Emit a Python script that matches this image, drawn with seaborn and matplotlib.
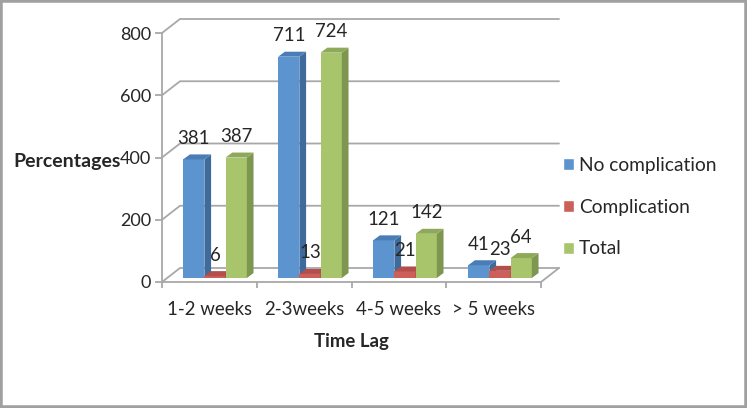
import matplotlib
matplotlib.use('Agg')
import matplotlib.pyplot as plt
from matplotlib.patches import Polygon, Rectangle
import pandas as pd
import seaborn as sns

# values
categories = ['1-2 weeks', '2-3weeks', '4-5 weeks', '> 5 weeks']
no_complication = [381, 711, 121, 41]
complication = [6, 13, 21, 23]
total = [387, 724, 142, 64]
yticks = [0, 200, 400, 600, 800]
series_names = ['No complication', 'Complication', 'Total']
front_cols = ['#5B94CE', '#CD5F5B', '#A9C56C']
side_cols = ['#3F6B9C', '#9A4340', '#7D9650']
top_cols = ['#4A7DB5', '#B34E4B', '#8FA95A']

W, H = 747, 408
grid_col = '#A8A8A8'
text_col = '#262626'

sns.set_style('white')
plt.rcParams['font.family'] = ['Lato', 'DejaVu Sans']
plt.rcParams['text.color'] = text_col

df = pd.DataFrame({
    'cat': categories * 3,
    'series': [s for s in series_names for _ in categories],
    'value': no_complication + complication + total,
})

fig = plt.figure(figsize=(W / 100, H / 100), dpi=100)
fig.add_artist(Rectangle((0, 0), 1, 1, transform=fig.transFigure, fill=False,
                         edgecolor='#A0A0A0', linewidth=4))

# front plane: ticks, labels and the walls behind the bars
base = fig.add_axes([162 / W, (H - 282) / H, 379 / W, 249 / H])
base.set_xlim(-0.5, 3.5)
base.set_ylim(0, 800)
base.patch.set_alpha(0)
for s in ['top', 'right']:
    base.spines[s].set_visible(False)
for s in ['left', 'bottom']:
    base.spines[s].set_color(grid_col)
    base.spines[s].set_linewidth(1.3)
base.set_yticks(yticks)
base.set_xticks([-0.5, 0.5, 1.5, 2.5, 3.5])
base.set_xticklabels([])
base.set_xticks(range(4), categories, minor=True)
base.tick_params(axis='x', which='major', length=4, width=1.3, color=grid_col, bottom=True)
base.tick_params(axis='x', which='minor', length=0, bottom=False, labelsize=13.4, pad=14, labelcolor=text_col)
base.tick_params(axis='y', length=5, width=1.3, color=grid_col, left=True, labelsize=13, pad=3, labelcolor=text_col)

depth_x = 18 / 379
depth_y = 14 * 800 / 249
tr = base.get_yaxis_transform()
for v in yticks:
    base.plot([0, depth_x, 1 + depth_x], [v, v + depth_y, v + depth_y], transform=tr,
              color=grid_col, lw=1.3, clip_on=False, zorder=1)
base.plot([1, 1 + depth_x], [0, depth_y], transform=tr, color=grid_col, lw=1.3, clip_on=False, zorder=1)

base.set_ylabel('Percentages', rotation=0, fontweight='bold', fontsize=14, va='center', ha='center')
base.yaxis.set_label_coords((67 - 162) / 379, (282 - 161) / 249)
base.set_xlabel('Time Lag', fontweight='bold', fontsize=13.4, va='center')
base.xaxis.set_label_coords(0.5, (282 - 341) / 249)

# bars sit a little in from the front plane
ax = fig.add_axes([167.5 / W, (H - 278) / H, 380 / W, 249 / H])
sns.barplot(data=df, x='cat', y='value', hue='series', hue_order=series_names,
            palette=front_cols, width=0.67, gap=0, saturation=1, ax=ax, zorder=3)
ax.set_xlim(-0.5, 3.5)
ax.set_ylim(0, 800)
ax.patch.set_alpha(0)
ax.axis('off')

bar_dx = 6.7 * 4 / 380
bar_dy = 5 * 800 / 249
for i, cont in enumerate(ax.containers):
    for b in cont:
        x0, x1, h = b.get_x(), b.get_x() + b.get_width(), b.get_height()
        b.set_zorder(3 + i)
        b.set_linewidth(0)
        ax.add_patch(Polygon([(x1, 0), (x1 + bar_dx, bar_dy), (x1 + bar_dx, h + bar_dy), (x1, h)],
                             color=side_cols[i], lw=0, zorder=3 + i, clip_on=False))
        ax.add_patch(Polygon([(x0, h), (x0 + bar_dx, h + bar_dy), (x1 + bar_dx, h + bar_dy), (x1, h)],
                             color=top_cols[i], lw=0, zorder=3 + i, clip_on=False))
    labels = ax.bar_label(cont, padding=9, fontsize=13.4, color=text_col, clip_on=False)
    for t in labels:
        t.set_zorder(10)

sns.move_legend(ax, 'upper left', bbox_to_anchor=(563 / W, (H - 157) / H),
                bbox_transform=fig.transFigure, frameon=False, title=None,
                fontsize=13.8, labelspacing=1.29, handlelength=0.58, handleheight=0.58,
                handletextpad=0.26, borderpad=0, borderaxespad=0)

fig.savefig('out.png', dpi=100)
